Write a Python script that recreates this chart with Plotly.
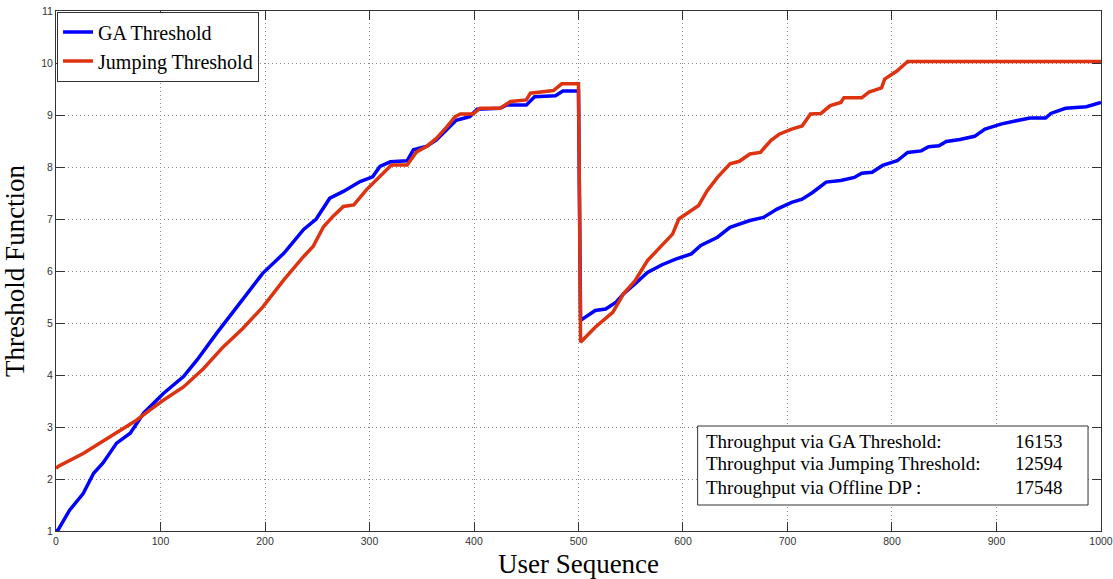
import plotly.graph_objects as go

# GA Threshold curve (user index, threshold value)
ga_x = [0, 2, 13, 26, 36, 45, 58, 71, 84, 96, 103, 122, 135, 154, 173, 198, 218, 237, 249, 262, 275,
        291, 303, 310, 320, 336, 342, 355, 364, 374, 383, 396, 403, 425, 431, 450, 458, 478, 485, 500,
        501, 502, 516, 526, 536, 543, 554, 566, 580, 593, 608, 617, 633, 645, 664, 677, 690, 704, 714,
        724, 737, 751, 764, 771, 781, 791, 805, 815, 828, 835, 845, 852, 865, 879, 889, 905, 919, 932,
        947, 952, 966, 986, 1000]
ga_y = [1.0, 1.02, 1.40, 1.72, 2.11, 2.31, 2.69, 2.88, 3.27, 3.52, 3.65, 3.97, 4.29, 4.81, 5.31, 5.96,
        6.34, 6.80, 7.00, 7.40, 7.53, 7.72, 7.81, 8.01, 8.10, 8.12, 8.33, 8.40, 8.52, 8.71, 8.90, 8.97,
        9.11, 9.13, 9.19, 9.19, 9.35, 9.37, 9.46, 9.46,
        7.2, 5.05, 5.24, 5.27, 5.40, 5.56, 5.75, 5.97, 6.12, 6.23, 6.33, 6.49, 6.65, 6.84, 6.97, 7.03,
        7.19, 7.32, 7.38, 7.51, 7.71, 7.74, 7.80, 7.88, 7.90, 8.03, 8.12, 8.28, 8.31, 8.39, 8.41, 8.49,
        8.53, 8.59, 8.73, 8.83, 8.89, 8.94, 8.94, 9.03, 9.13, 9.16, 9.24]

# Jumping Threshold curve
jt_x = [0, 2, 26, 42, 58, 77, 90, 103, 122, 141, 160, 179, 198, 218, 237, 246, 256, 265, 275, 285,
        297, 310, 321, 336, 345, 355, 364, 374, 382, 387, 399, 406, 425, 435, 450, 454, 476, 484, 500,
        501, 502, 516, 533, 543, 554, 566, 580, 590, 596, 606, 615, 623, 633, 645, 654, 664, 674, 684,
        692, 704, 714, 722, 732, 741, 751, 754, 771, 778, 790, 793, 805, 815, 1000]
jt_y = [2.20, 2.24, 2.49, 2.69, 2.88, 3.13, 3.33, 3.52, 3.77, 4.12, 4.54, 4.90, 5.31, 5.83, 6.28,
        6.47, 6.85, 7.05, 7.24, 7.27, 7.56, 7.81, 8.04, 8.04, 8.29, 8.40, 8.55, 8.77, 8.97, 9.02, 9.02,
        9.13, 9.13, 9.26, 9.29, 9.42, 9.47, 9.60, 9.60,
        7.2, 4.63, 4.92, 5.21, 5.56, 5.81, 6.20, 6.49, 6.71, 7.00, 7.13, 7.26, 7.54, 7.80, 8.06, 8.11,
        8.25, 8.28, 8.51, 8.63, 8.73, 8.79, 9.02, 9.03, 9.18, 9.24, 9.33, 9.33, 9.44, 9.52, 9.69, 9.85,
        10.03, 10.03]

series_names = ["GA Threshold", "Jumping Threshold"]
series_colors = ["#0000FF", "#DD3311"]

throughput_labels = ["Throughput via GA Threshold:", "Throughput via Jumping Threshold:",
                     "Throughput via Offline DP :"]
throughput_values = [16153, 12594, 17548]

x_ticks = list(range(0, 1001, 100))
y_ticks = list(range(1, 12))

serif = "Liberation Serif, Times New Roman, serif"
sans = "Liberation Sans, Arial, sans-serif"

fig = go.Figure()
for xs, ys, name, col in [(ga_x, ga_y, series_names[0], series_colors[0]),
                          (jt_x, jt_y, series_names[1], series_colors[1])]:
    fig.add_trace(go.Scatter(x=xs, y=ys, mode="lines", name=name,
                             line=dict(color=col, width=3.5)))

axis_common = dict(showline=True, linecolor="#333", linewidth=1, mirror="allticks",
                   ticks="inside", ticklen=9, tickcolor="#333",
                   showgrid=True, gridcolor="#888", griddash="1px,3px", gridwidth=1,
                   zeroline=False, ticklabeloverflow="allow", automargin=False,
                   tickfont=dict(family=sans, size=10.5, color="#333"))

fig.update_xaxes(range=[0, 1000.01], tickvals=x_ticks, **axis_common,
                 title=dict(text="User Sequence", font=dict(family=serif, size=27, color="black")))
fig.update_yaxes(range=[1, 11], tickvals=y_ticks, **axis_common,
                 title=dict(text="Threshold Function", font=dict(family=serif, size=27, color="black")))

# text box with throughput
fig.add_shape(type="rect", xref="paper", yref="paper", x0=0.614, x1=0.9876, y0=0.05, y1=0.2019,
              line=dict(color="#333", width=1), fillcolor="white", layer="above")
line_y = [0.173, 0.129, 0.0846]
for lab, val, yy in zip(throughput_labels, throughput_values, line_y):
    fig.add_annotation(x=0.620, y=yy, xref="paper", yref="paper", text=lab, showarrow=False,
                       xanchor="left", yanchor="middle", font=dict(family=serif, size=19, color="black"))
    fig.add_annotation(x=0.9155, y=yy, xref="paper", yref="paper", text=str(val), showarrow=False,
                       xanchor="left", yanchor="middle", font=dict(family=serif, size=19, color="black"))

fig.update_layout(
    width=1113, height=579,
    margin=dict(l=56, r=12, t=11, b=48, autoexpand=False),
    paper_bgcolor="white", plot_bgcolor="white",
    legend=dict(x=0.001, y=0.999, xanchor="left", yanchor="top", bgcolor="white",
                bordercolor="#333", borderwidth=1, font=dict(family=serif, size=20, color="black"),
                itemwidth=30, tracegroupgap=0),
    showlegend=True,
)

fig.write_html("out.html")
